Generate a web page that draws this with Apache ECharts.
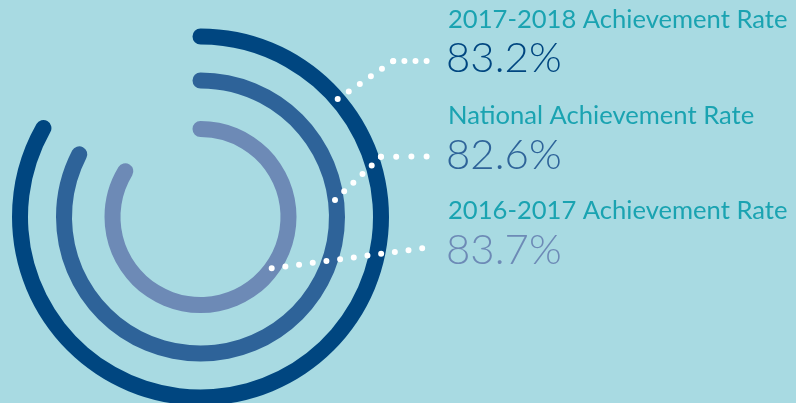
<!DOCTYPE html>
<html>
<head>
<meta charset="utf-8">
<script src="https://cdn.jsdelivr.net/npm/echarts@6/dist/echarts.min.js"></script>
<style>
  html, body { margin: 0; padding: 0; background: #a8dae2; }
  #chart { width: 796px; height: 403px; }
</style>
</head>
<body>
<div id="chart"></div>
<script>
// data
const seriesNames = ['2017-2018 Achievement Rate', 'National Achievement Rate', '2016-2017 Achievement Rate']
const seriesValues = [83.2, 82.6, 83.7]
const valueLabels = ['83.2%', '82.6%', '83.7%']
const ringColors = ['#004680', '#2e6399', '#6d8ab6']

// ring geometry (outer -> inner)
const ringRadius = [180.5, 136.5, 88]
const ringWidth = 16
const center = [200.5, 217]

const chart = echarts.init(document.getElementById('chart'))

const polar = ringRadius.map(r => ({ center: center, radius: [r - ringWidth / 2, r + ringWidth / 2] }))
const angleAxis = ringRadius.map((r, i) => ({
  polarIndex: i, type: 'value', min: 0, max: 100, startAngle: 90, clockwise: true, show: false
}))
const radiusAxis = ringRadius.map((r, i) => ({
  polarIndex: i, type: 'category', data: [seriesNames[i]], show: false
}))
const series = seriesValues.map((v, i) => ({
  type: 'bar',
  name: seriesNames[i],
  coordinateSystem: 'polar',
  polarIndex: i,
  data: [v],
  barWidth: ringWidth,
  roundCap: true,
  itemStyle: { color: ringColors[i] },
  silent: true
}))

// dotted leader lines (decoration, drawn above the rings)
const leaderSegs = [
  [[337.7, 99], [393.3, 61], 13.4],
  [[393.3, 61], [426.7, 61], 11.1],
  [[335, 200], [381, 156.7], 12.6],
  [[381, 156.7], [426.7, 156.5], 15.2],
  [[271.7, 268.3], [422.7, 248.3], 13.8]
]
const graphic = leaderSegs.map(s => ({
  type: 'polyline',
  silent: true,
  z: 100,
  shape: { points: [s[0], s[1]] },
  style: { stroke: '#ffffff', lineWidth: 6, lineCap: 'round', lineDash: [0, s[2]], fill: null }
}))

const textTop = [[7, 37], [103, 134], [198, 229]]
seriesNames.forEach((name, i) => {
  graphic.push({
    type: 'text', silent: true, z: 100,
    style: { text: name, x: 448, y: textTop[i][0], verticalAlign: 'top',
      font: '25.6px Lato', fill: '#1aa3b1' }
  })
  graphic.push({
    type: 'text', silent: true, z: 100,
    style: { text: valueLabels[i], x: 446, y: textTop[i][1], verticalAlign: 'top',
      font: '300 42px Lato', fill: ringColors[i] }
  })
})

chart.setOption({
  backgroundColor: '#a8dae2',
  animation: false,
  polar: polar,
  angleAxis: angleAxis,
  radiusAxis: radiusAxis,
  series: series,
  graphic: graphic
})
</script>
</body>
</html>
